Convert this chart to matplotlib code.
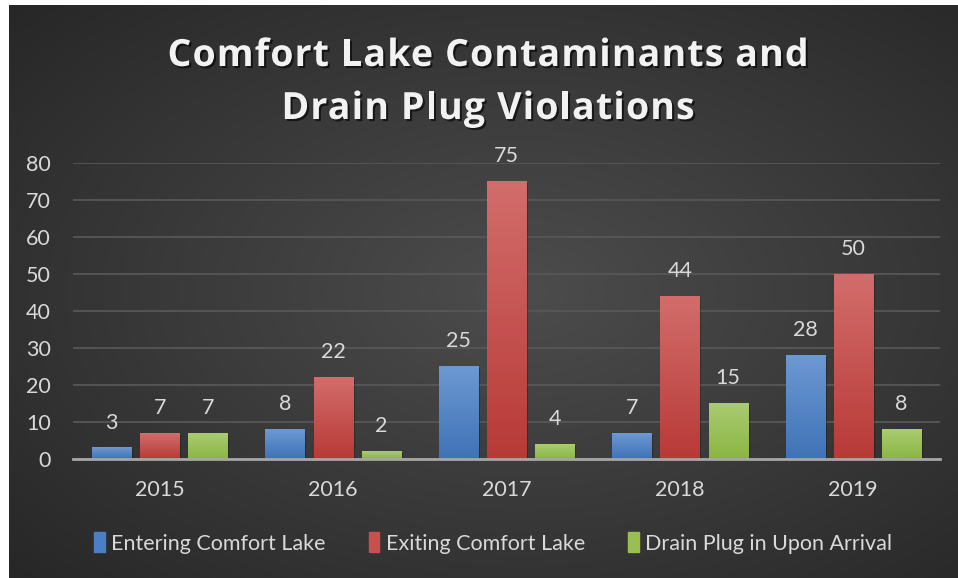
import numpy as np
import matplotlib
matplotlib.use("Agg")
import matplotlib.pyplot as plt
import matplotlib.patheffects as pe
from matplotlib.patches import Rectangle

years = ["2015", "2016", "2017", "2018", "2019"]
entering = [3, 8, 25, 7, 28]
exiting = [7, 22, 75, 44, 50]
drain_plug = [7, 2, 4, 15, 8]
series_names = ["Entering Comfort Lake", "Exiting Comfort Lake", "Drain Plug in Upon Arrival"]
yticks = [0, 10, 20, 30, 40, 50, 60, 70, 80]
title_lines = ["Comfort Lake Contaminants and", "Drain Plug Violations"]

# (top colour, bottom colour) for the gradient fill of each series
colors = [("#6d99d3", "#3f72b6"), ("#d26d6b", "#b83a37"), ("#aacb72", "#8bb642")]
legend_colors = ["#4a7fc3", "#c5504d", "#97bf52"]
text_col = "#d9d9d9"

plt.rcParams["font.family"] = ["Lato", "DejaVu Sans"]

fig = plt.figure(figsize=(9.58, 5.78), dpi=100)
fig.patch.set_facecolor("white")
W, H = 958, 578

# dark radial background of the chart area
bg = fig.add_axes([9 / W, 0, 1 - 9 / W, 1 - 5 / H], zorder=0)
yy, xx = np.mgrid[0:1:300j, 0:1:500j]
r = np.sqrt(((xx - 0.54) / 0.75) ** 2 + ((yy - 0.5) / 0.75) ** 2)
shade = np.clip(1 - r, 0, 1)
lo, hi = np.array([0.15, 0.15, 0.15]), np.array([0.30, 0.30, 0.30])
img = lo + (hi - lo) * shade[..., None]
bg.imshow(img, extent=[0, 1, 0, 1], aspect="auto", origin="lower")
bg.set_xlim(0, 1)
bg.set_ylim(0, 1)
bg.axis("off")

ax = fig.add_axes([73 / W, 1 - 459 / H, 867 / W, 296 / H], zorder=1)
ax.patch.set_alpha(0)

x = np.arange(len(years))
width = 0.225
step = 0.278
grad = np.linspace(0, 1, 100)[:, None]
for i, vals in enumerate([entering, exiting, drain_plug]):
    bars = ax.bar(x + (i - 1) * step, vals, width, color="none", zorder=3)
    top, bot = np.array(matplotlib.colors.to_rgb(colors[i][0])), np.array(matplotlib.colors.to_rgb(colors[i][1]))
    cimg = bot[None, None, :] + (top - bot)[None, None, :] * grad[..., None]
    for b in bars:
        x0, w, h = b.get_x(), b.get_width(), b.get_height()
        # soft shadow
        ax.add_patch(Rectangle((x0 + 0.012, 0), w, h - 0.4, color="black", alpha=0.25, zorder=2.5, lw=0))
        ax.imshow(cimg, extent=[x0, x0 + w, 0, h], aspect="auto", origin="lower", zorder=3)
        ax.annotate(str(int(h)), (x0 + w / 2, h), xytext=(0, 11), textcoords="offset points",
                    ha="center", va="bottom", fontsize=15.5, color=text_col)

ax.set_xlim(-0.5, len(years) - 0.5)
ax.set_ylim(0, 80)
ax.set_yticks(yticks)
ax.set_xticks(x)
ax.set_xticklabels(years)
ax.tick_params(axis="both", length=0, labelsize=15.5, colors=text_col)
ax.tick_params(axis="x", pad=15)
ax.tick_params(axis="y", pad=16)
ax.grid(axis="y", color="#575757", lw=1.3, zorder=0)
ax.set_axisbelow(True)
for s in ["top", "right", "left"]:
    ax.spines[s].set_visible(False)
ax.spines["bottom"].set_color("#a6a6a6")
ax.spines["bottom"].set_linewidth(2)
ax.spines["bottom"].set_zorder(4)

handles = [Rectangle((0, 0), 1, 1, color=c) for c in legend_colors]
leg = fig.legend(handles, series_names, loc="center", bbox_to_anchor=(493 / W, 1 - 543 / H), ncol=3,
                 frameon=False, fontsize=15.5, handlelength=0.5, handleheight=1.0, handletextpad=0.3,
                 columnspacing=2.0, labelcolor=text_col)

# title with extra letter spacing, drawn one character at a time
renderer = fig.canvas.get_renderer()
tkw = dict(fontsize=27, fontweight="bold", color="#f2f2f2", family=["Open Sans", "DejaVu Sans"],
           path_effects=[pe.withSimplePatchShadow(offset=(1.5, -1.5), shadow_rgbFace="black", alpha=0.6)])


def text_w(s):
    t = fig.text(0, 0, s, **tkw)
    w = t.get_window_extent(renderer).width
    t.remove()
    return w


for line, yb, target in zip(title_lines, [66, 119], [641, None]):
    n = len(line)
    natural = text_w(line)
    extra = (target - natural) / (n - 1) if target else extra
    total = natural + extra * (n - 1)
    x0 = 488 - total / 2
    for i, ch in enumerate(line):
        if ch == " ":
            continue
        left = text_w(line[:i + 1]) - text_w(ch)
        fig.text((x0 + left + extra * i) / W, 1 - yb / H, ch, ha="left", va="baseline", **tkw)

fig.savefig("out.png", dpi=100)
